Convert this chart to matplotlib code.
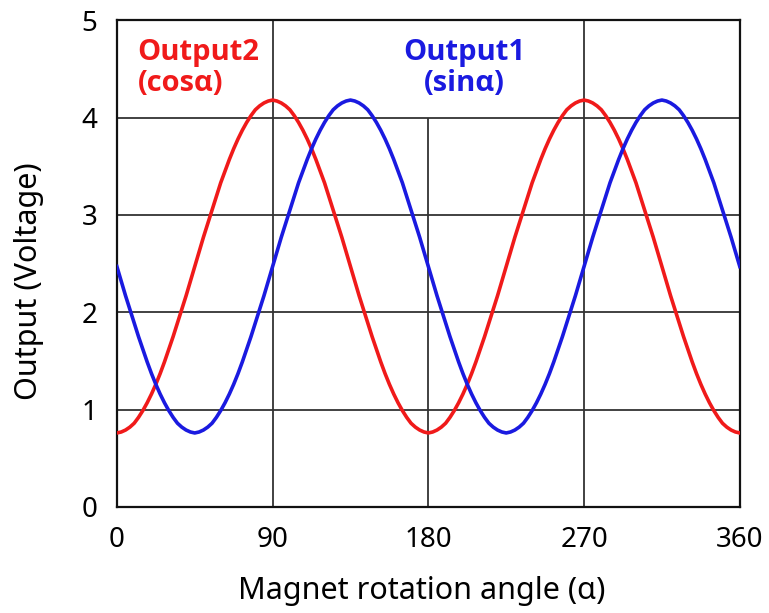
import matplotlib
matplotlib.use("Agg")
import matplotlib.pyplot as plt

# angle steps of 2.5 degrees (one half period, repeated)
angles = [i * 2.5 for i in range(145)]

half_red = [0.76, 0.77, 0.79, 0.82, 0.86, 0.92, 0.99, 1.07, 1.16, 1.26, 1.37, 1.49,
            1.62, 1.75, 1.89, 2.03, 2.17, 2.32, 2.47,
            2.62, 2.77, 2.91, 3.05, 3.19, 3.33, 3.45, 3.57, 3.68, 3.78, 3.87, 3.95,
            4.02, 4.08, 4.12, 4.15, 4.17, 4.18,
            4.17, 4.15, 4.12, 4.08, 4.02, 3.95, 3.87, 3.78, 3.68, 3.57, 3.45, 3.33,
            3.19, 3.05, 2.91, 2.77, 2.62, 2.47,
            2.32, 2.17, 2.03, 1.89, 1.75, 1.62, 1.49, 1.37, 1.26, 1.16, 1.07, 0.99,
            0.92, 0.86, 0.82, 0.79, 0.77]
output2 = half_red + half_red + [0.76]

half_blue = [2.47, 2.32, 2.17, 2.03, 1.89, 1.75, 1.62, 1.49, 1.37, 1.26, 1.16, 1.07,
             0.99, 0.92, 0.86, 0.82, 0.79, 0.77,
             0.76, 0.77, 0.79, 0.82, 0.86, 0.92, 0.99, 1.07, 1.16, 1.26, 1.37, 1.49,
             1.62, 1.75, 1.89, 2.03, 2.17, 2.32, 2.47,
             2.62, 2.77, 2.91, 3.05, 3.19, 3.33, 3.45, 3.57, 3.68, 3.78, 3.87, 3.95,
             4.02, 4.08, 4.12, 4.15, 4.17, 4.18,
             4.17, 4.15, 4.12, 4.08, 4.02, 3.95, 3.87, 3.78, 3.68, 3.57, 3.45, 3.33,
             3.19, 3.05, 2.91, 2.77, 2.62]
output1 = half_blue + half_blue + [2.47]

x_ticks = [0, 90, 180, 270, 360]
y_ticks = [0, 1, 2, 3, 4, 5]

red = "#f01a1a"
blue = "#1a1ae0"
grid_c = "#333333"

plt.rcParams["font.family"] = ["Noto Sans", "DejaVu Sans"]

fig = plt.figure(figsize=(7.69, 6.13), dpi=100)
ax = fig.add_axes([0.152, 0.173, 0.81, 0.794])

# grid
for yv in [1, 2, 3, 4]:
  ax.axhline(yv, color=grid_c, lw=1.3, zorder=1)
ax.axvline(90, color=grid_c, lw=1.3, zorder=1)
ax.axvline(270, color=grid_c, lw=1.3, zorder=1)
ax.vlines(180, 0, 4, color=grid_c, lw=1.3, zorder=1)

ax.plot(angles, output2, color=red, lw=2.6, zorder=3)
ax.plot(angles, output1, color=blue, lw=2.6, zorder=3)

ax.set_xlim(0, 360)
ax.set_ylim(0, 5)
ax.set_xticks(x_ticks)
ax.set_yticks(y_ticks)
ax.tick_params(length=0, labelsize=20)
ax.tick_params(axis="x", pad=14)
ax.tick_params(axis="y", pad=14)
for s in ax.spines.values():
  s.set_linewidth(1.6)
  s.set_color("#111111")

ax.set_xlabel("Magnet rotation angle (α)", fontsize=22)
ax.set_ylabel("Output (Voltage)", fontsize=22)
ax.xaxis.set_label_coords(0.49, -0.142)
ax.yaxis.set_label_coords(-0.117, 0.464)

label_font = ["Open Sans", "DejaVu Sans"]
ax.text(12, 4.51, "Output2\n(cosα)", color=red, fontsize=21, fontweight="bold",
        family=label_font, ha="left", va="center", linespacing=1.12)
ax.text(201, 4.51, "Output1\n(sinα)", color=blue, fontsize=21, fontweight="bold",
        family=label_font, ha="center", va="center", linespacing=1.12)

fig.savefig("out.png", dpi=100)
